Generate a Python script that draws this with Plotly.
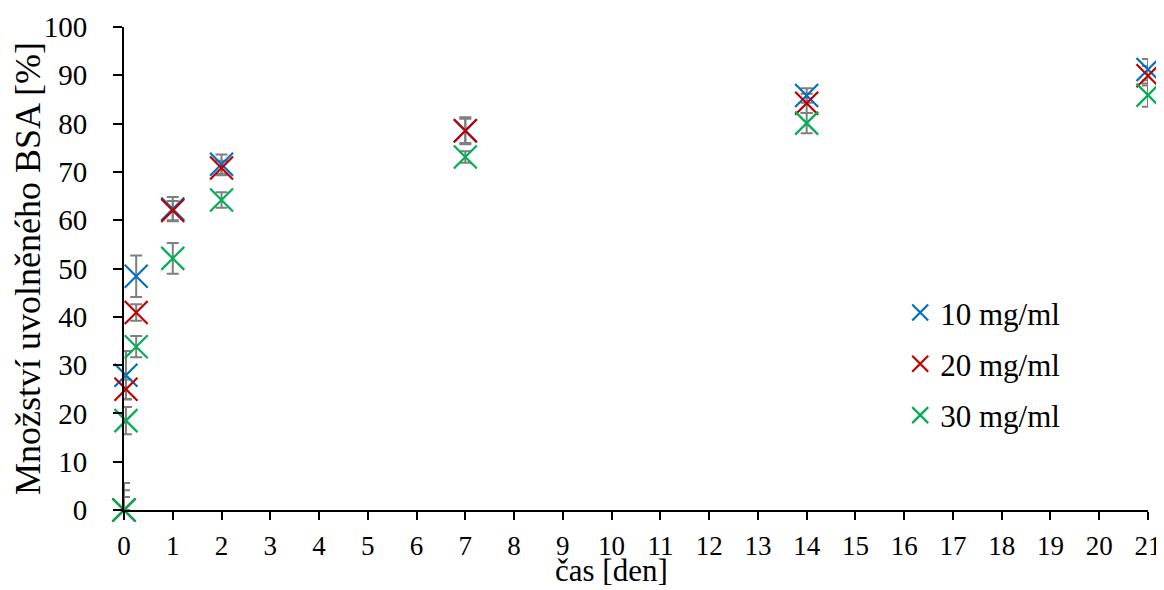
import plotly.graph_objects as go

days = [0, 0.04, 0.25, 1, 2, 7, 14, 21]
series_names = ["10 mg/ml", "20 mg/ml", "30 mg/ml"]
values_10 = [0, 27.9, 48.4, 62.3, 71.6, 78.5, 85.8, 91.2]
values_20 = [0, 25.0, 40.9, 62.0, 70.8, 78.5, 84.2, 89.9]
values_30 = [0, 18.5, 33.8, 52.1, 64.2, 73.1, 80.1, 85.9]
err_10 = [5.6, 5.0, 4.3, 2.5, 2.0, 2.5, 1.5, 2.2]
err_20 = [4.1, 2.0, 1.7, 2.0, 1.5, 2.8, 2.0, 2.0]
err_30 = [2.7, 2.8, 2.2, 3.2, 1.6, 1.2, 2.1, 2.4]
x_ticks = list(range(0, 22))
y_ticks = list(range(0, 101, 10))
x_title = "čas [den]"
y_title = "Množství uvolněného BSA [%]"

colors = ["#0070C0", "#C00000", "#00B050"]
all_vals = [values_10, values_20, values_30]
all_errs = [err_10, err_20, err_30]

FONT = "Liberation Serif"
fig = go.Figure()

# error bars first (behind all markers)
for vals, errs in zip(all_vals, all_errs):
    minus = [0 if v == 0 else e for v, e in zip(vals, errs)]
    fig.add_trace(go.Scatter(
        x=days, y=vals, mode="markers",
        marker=dict(size=1, color="rgba(0,0,0,0)"),
        error_y=dict(type="data", array=errs, arrayminus=minus, symmetric=False,
                     color="#7F7F7F", thickness=2, width=6),
        showlegend=False, hoverinfo="skip", cliponaxis=False))

for i, (name, vals, col) in enumerate(zip(series_names, all_vals, colors)):
    fig.add_trace(go.Scatter(
        x=days, y=vals, mode="markers", name=name, legendgroup=f"g{i}",
        marker=dict(symbol="x-thin", size=23, line=dict(color=col, width=2.2), color=col),
        cliponaxis=False))

# page body has an 8px margin, so the figure is 8px smaller and shifted
fig.update_layout(
    width=1156, height=582,
    margin=dict(l=116, r=16, t=19, b=80, autoexpand=False),
    paper_bgcolor="white", plot_bgcolor="white",
    font=dict(family=FONT, size=28, color="black"),
    legend=dict(x=0.758, y=0.464, xanchor="left", yanchor="top",
                font=dict(family=FONT, size=31), tracegroupgap=8,
                traceorder="grouped",
                itemwidth=30, bgcolor="rgba(0,0,0,0)"),
    showlegend=True,
    annotations=[dict(text=x_title, xref="paper", yref="paper", x=0.4756, y=-0.1636,
                      xanchor="center", yanchor="bottom", showarrow=False, borderpad=0,
                      font=dict(family=FONT, size=31))],
)
fig.update_xaxes(range=[0, 21], tickvals=x_ticks, ticktext=[str(t) for t in x_ticks],
                 showline=True, linecolor="black", linewidth=2, automargin=False,
                 ticks="outside", ticklen=8, tickwidth=2, tickcolor="black",
                 showgrid=False, zeroline=False, ticklabelstandoff=3,
                 tickfont=dict(family=FONT, size=27))
fig.update_yaxes(range=[0, 100], tickvals=y_ticks,
                 showline=True, linecolor="black", linewidth=2, automargin=False,
                 ticks="outside", ticklen=9, tickwidth=2, tickcolor="black",
                 showgrid=False, zeroline=False, ticklabelstandoff=20,
                 tickfont=dict(family=FONT, size=29),
                 title=dict(text=y_title, font=dict(family=FONT, size=36), standoff=8))

fig.write_html("out.html")
